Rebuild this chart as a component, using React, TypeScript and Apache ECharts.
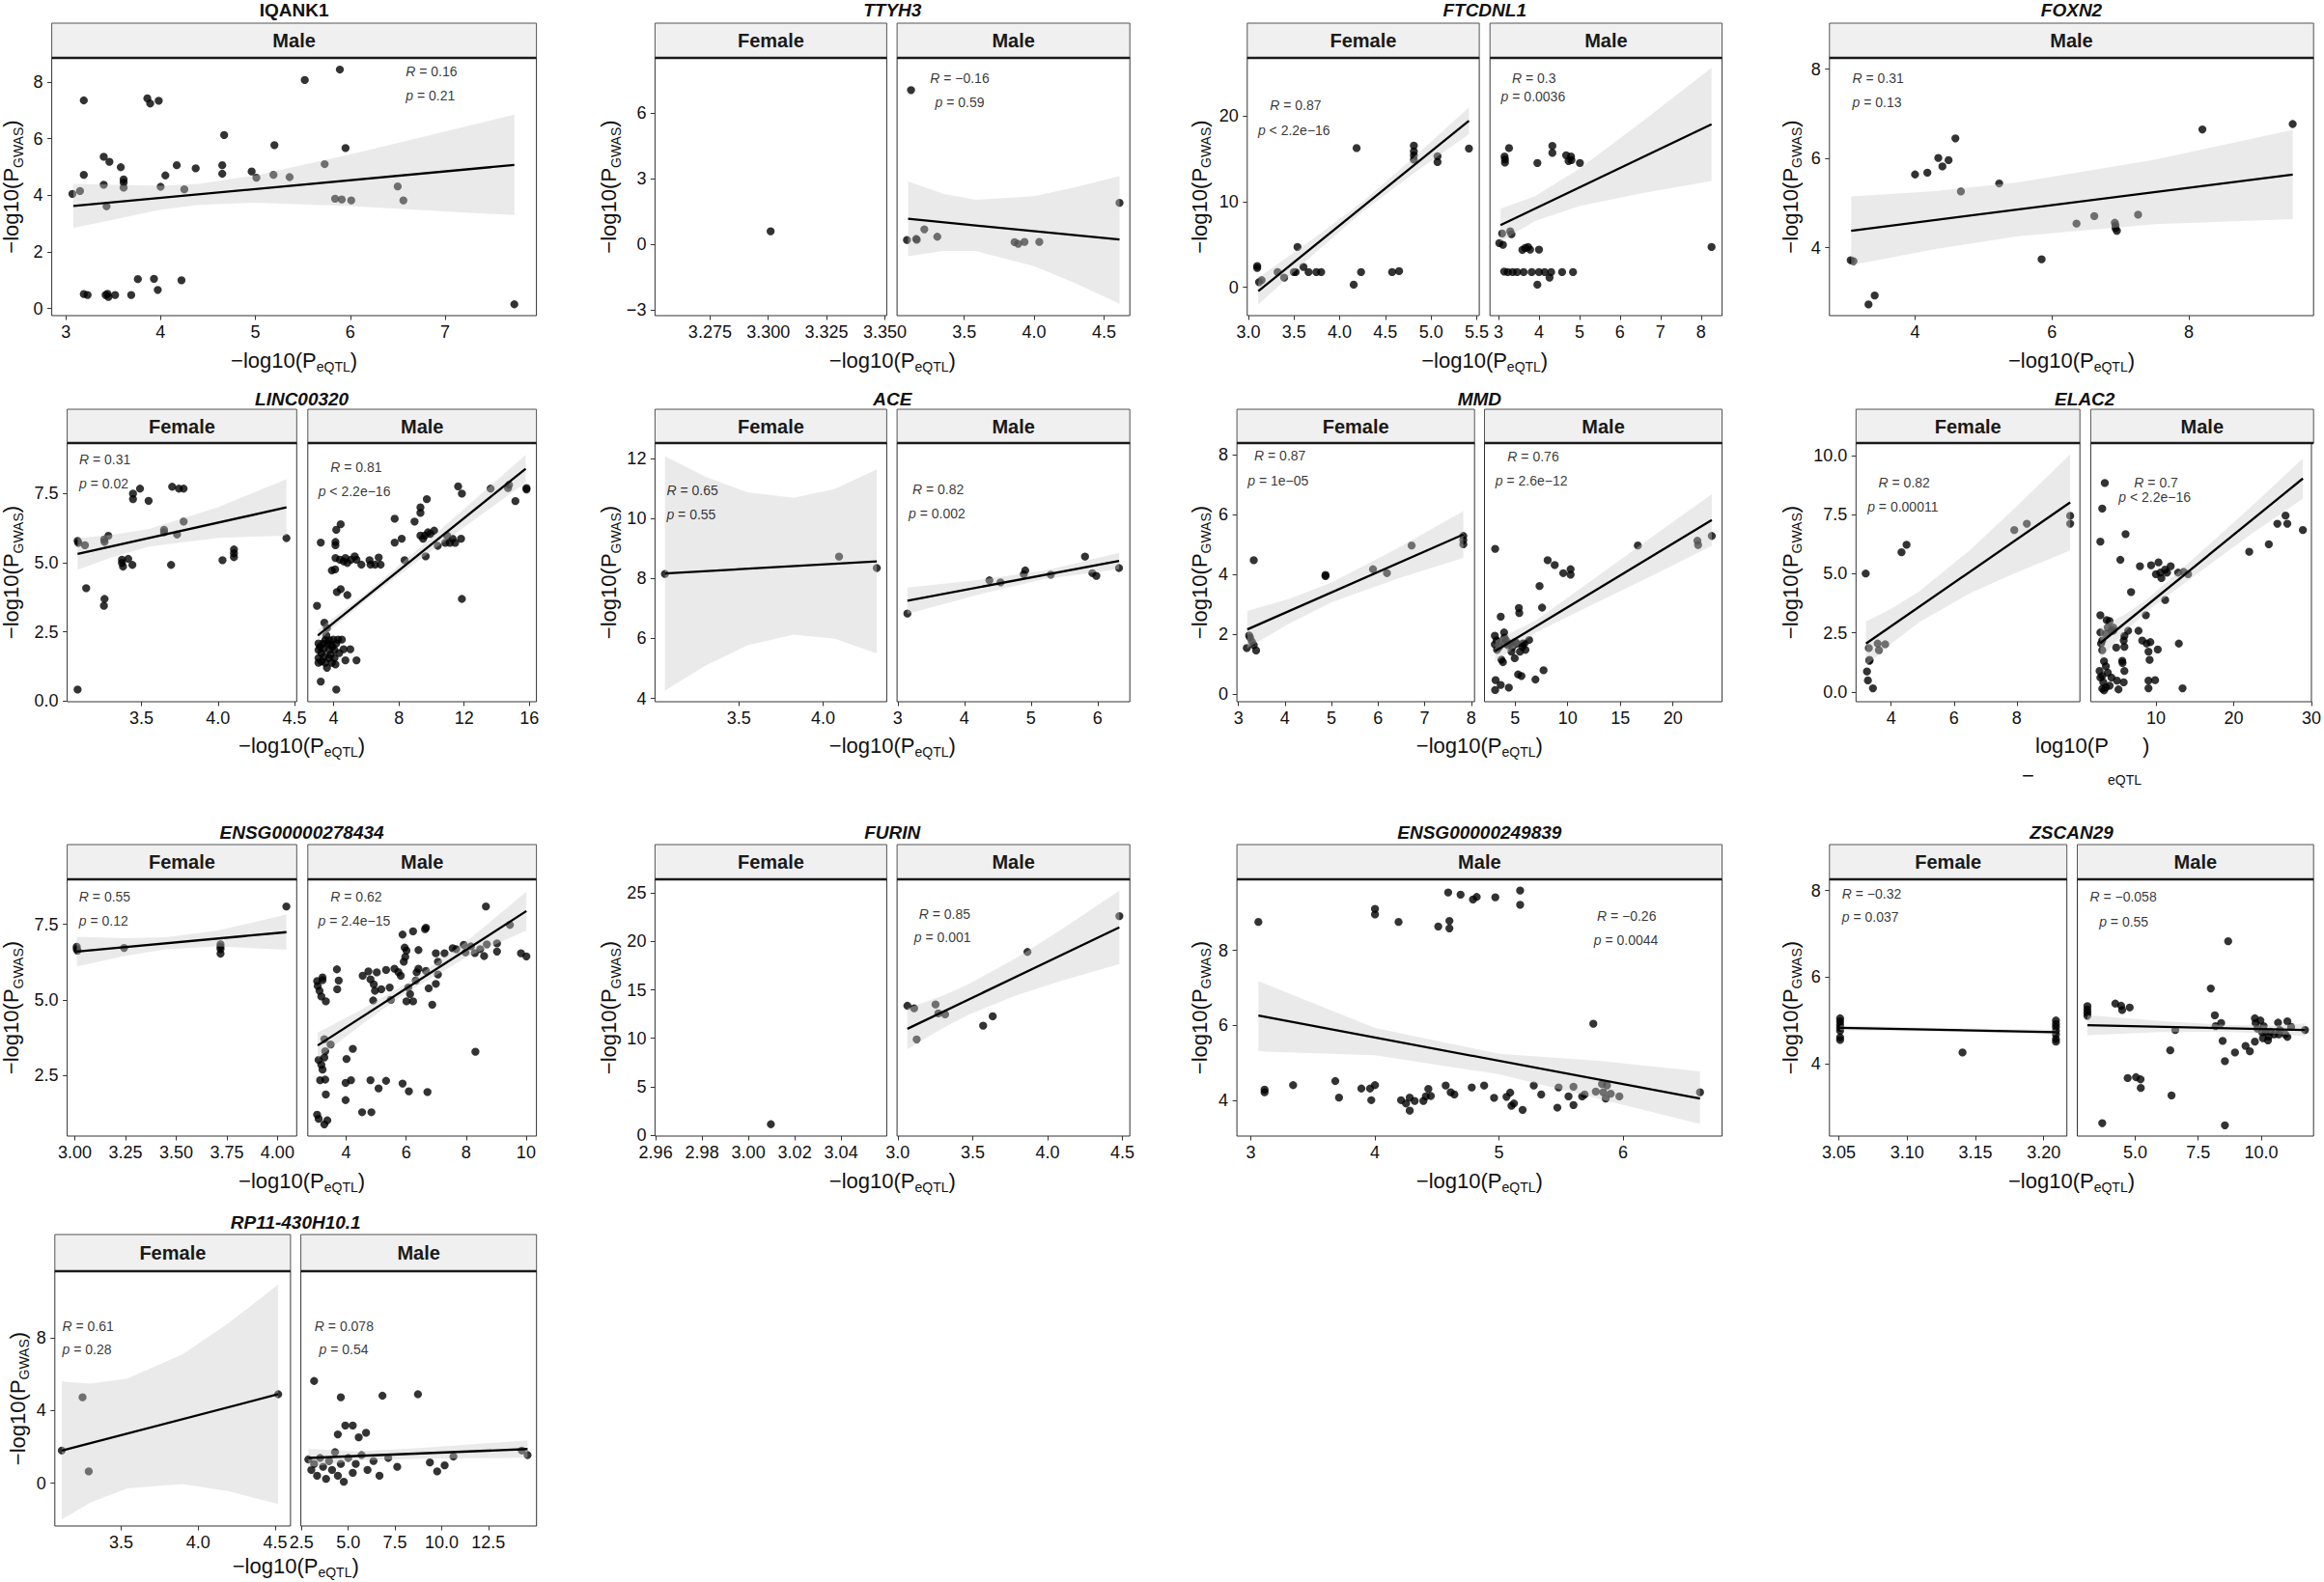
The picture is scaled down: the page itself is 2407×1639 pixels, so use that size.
import React, { useEffect, useRef } from "react";
import * as echarts from "echarts";

const FONT = "'Liberation Sans', Arial, Helvetica, sans-serif";
const MINUS = "\u2212";

// ================= DATA =================
// ---- IQANK1 (Male) ----
const IQANK1_X_TICKS = [3, 4, 5, 6, 7];
const IQANK1_Y_TICKS = [0, 2, 4, 6, 8];
const IQANK1_M_PTS = [[3.07,4.05],[3.15,4.15],[3.19,7.35],[3.19,4.72],[3.19,0.51],[3.23,0.48],[3.40,5.36],[3.40,4.37],[3.43,3.61],[3.46,5.18],[3.44,0.52],[3.45,0.41],[3.42,0.48],[3.52,0.48],[3.58,4.99],[3.61,4.56],[3.61,4.45],[3.61,4.27],[3.69,0.48],[3.76,1.04],[3.86,7.42],[3.89,7.24],[3.98,7.34],[3.93,1.05],[3.97,0.66],[4.00,4.30],[4.05,4.70],[4.17,5.06],[4.22,1.00],[4.25,4.21],[4.37,4.95],[4.65,5.06],[4.65,4.76],[4.67,6.13],[4.96,4.84],[5.01,4.62],[5.19,4.72],[5.20,5.77],[5.36,4.64],[5.52,8.07],[5.73,5.10],[5.84,3.88],[5.89,8.44],[5.91,3.85],[5.95,5.67],[6.01,3.82],[6.50,4.31],[6.56,3.82],[7.73,0.15]];
const IQANK1_M_FIT = [[3.08,3.62],[7.73,5.07]];
const IQANK1_M_BAND = [[3.08,2.84,4.40],[4.0,3.49,4.33],[4.4,3.66,4.40],[5.0,3.74,4.70],[6.0,3.62,5.44],[7.0,3.43,6.25],[7.73,3.30,6.85]];
const IQANK1_M_STATS = ["0.16", "= 0.21"];

// ---- TTYH3 ----
const TTYH3_Y_TICKS = [-3, 0, 3, 6];
const TTYH3_F_X_TICKS = [3.275, 3.3, 3.325, 3.35];
const TTYH3_M_X_TICKS = [3.5, 4.0, 4.5];
const TTYH3_F_PTS = [[3.301,0.59]];
const TTYH3_M_PTS = [[3.090,0.19],[3.119,7.05],[3.156,0.24],[3.160,0.20],[3.214,0.68],[3.307,0.34],[3.860,0.09],[3.886,0.01],[3.931,0.10],[4.037,0.10],[4.611,1.89]];
const TTYH3_M_FIT = [[3.098,1.16],[4.611,0.21]];
const TTYH3_M_BAND = [[3.098,-0.55,2.87],[3.35,-0.31,2.31],[3.58,-0.31,2.03],[4.0,-1.01,2.19],[4.3,-1.80,2.61],[4.611,-2.73,3.11]];
const TTYH3_M_STATS = ["−0.16", "= 0.59"];

// ---- FTCDNL1 ----
const FTCDNL1_Y_TICKS = [0, 10, 20];
const FTCDNL1_F_X_TICKS = [3.0, 3.5, 4.0, 4.5, 5.0, 5.5];
const FTCDNL1_M_X_TICKS = [3, 4, 5, 6, 7, 8];
const FTCDNL1_F_PTS = [[3.097,2.48],[3.097,2.26],[3.117,0.60],[3.146,0.83],[3.320,1.77],[3.392,1.13],[3.498,1.77],[3.518,1.77],[3.538,4.70],[3.603,2.37],[3.659,1.77],[3.744,1.77],[3.797,1.77],[4.153,0.30],[4.185,16.24],[4.234,1.77],[4.574,1.77],[4.650,1.88],[4.812,16.54],[4.812,15.86],[4.812,15.38],[4.812,14.89],[5.071,15.30],[5.071,14.62],[5.415,16.20]];
const FTCDNL1_F_FIT = [[3.109,-0.45],[5.415,19.44]];
const FTCDNL1_F_BAND = [[3.109,-2.01,1.11],[3.7,3.73,5.57],[4.25,8.79,9.99],[4.8,13.21,15.05],[5.415,17.88,21.0]];
const FTCDNL1_F_STATS = ["0.87", "< 2.2e−16"];
const FTCDNL1_M_PTS = [[3.02,5.15],[3.09,6.28],[3.11,4.96],[3.15,15.26],[3.16,14.92],[3.16,14.55],[3.14,1.84],[3.23,1.77],[3.26,16.24],[3.29,6.54],[3.32,6.20],[3.35,1.77],[3.46,1.77],[3.59,4.36],[3.66,4.59],[3.73,4.70],[3.78,4.40],[3.82,1.77],[3.62,1.77],[3.96,14.51],[3.96,0.30],[4.00,4.40],[4.00,1.77],[4.14,1.77],[4.26,1.13],[4.30,1.77],[4.33,16.50],[4.33,15.68],[4.57,1.77],[4.67,15.41],[4.73,14.74],[4.79,15.26],[4.80,14.85],[4.84,1.77],[5.01,14.51],[8.26,4.70]];
const FTCDNL1_M_FIT = [[3.05,7.26],[8.26,19.02]];
const FTCDNL1_M_BAND = [[3.05,5.34,9.18],[3.9,7.73,10.63],[5.0,9.48,13.84],[6.5,10.93,19.17],[8.26,12.42,25.62]];
const FTCDNL1_M_STATS = ["0.3", "= 0.0036"];

// ---- FOXN2 (Male) ----
const FOXN2_X_TICKS = [4, 6, 8];
const FOXN2_Y_TICKS = [4, 6, 8];
const FOXN2_M_PTS = [[3.06,3.72],[3.10,3.70],[3.32,2.73],[3.41,2.93],[4.00,5.64],[4.18,5.68],[4.34,6.01],[4.40,5.82],[4.49,5.96],[4.59,6.45],[4.67,5.26],[5.23,5.44],[5.85,3.74],[6.36,4.54],[6.62,4.71],[6.92,4.56],[6.93,4.50],[6.93,4.44],[6.95,4.38],[7.26,4.74],[8.20,6.65],[9.52,6.77]];
const FOXN2_M_FIT = [[3.066,4.38],[9.52,5.64]];
const FOXN2_M_BAND = [[3.066,3.61,5.15],[4.3,3.97,5.27],[5.5,4.26,5.46],[7.5,4.53,5.97],[9.52,4.64,6.64]];
const FOXN2_M_STATS = ["0.31", "= 0.13"];

// ---- LINC00320 ----
const LINC_Y_TICKS = [0, 2.5, 5, 7.5];
const LINC_F_X_TICKS = [3.5, 4.0, 4.5];
const LINC_M_X_TICKS = [4, 8, 12, 16];
const LINC_F_PTS = [[3.082,5.79],[3.087,5.72],[3.130,5.63],[3.138,4.08],[3.082,0.41],[3.256,5.84],[3.258,5.75],[3.258,3.69],[3.254,3.44],[3.283,5.97],[3.372,5.11],[3.372,4.99],[3.379,4.86],[3.413,5.14],[3.440,4.92],[3.444,7.50],[3.444,7.30],[3.490,7.68],[3.546,7.24],[3.647,6.19],[3.647,6.10],[3.700,7.75],[3.693,4.92],[3.732,6.02],[3.744,7.68],[3.775,7.68],[3.775,6.49],[4.029,5.09],[4.104,5.48],[4.104,5.34],[4.104,5.20],[4.447,5.89]];
const LINC_F_FIT = [[3.082,5.32],[4.447,7.00]];
const LINC_F_BAND = [[3.082,4.75,5.89],[3.3,5.18,6.00],[3.55,5.58,6.22],[4.0,5.90,7.01],[4.447,5.98,8.02]];
const LINC_F_STATS = ["0.31", "= 0.02"];
const LINC_M_PTS = [[2.98,3.44],[3.43,2.83],[3.21,0.70],[4.16,0.41],[3.59,2.64],[3.55,2.37],[3.48,2.19],[3.07,2.08],[3.07,1.84],[3.07,1.55],[3.07,1.38],[3.16,1.96],[3.25,1.73],[3.25,1.43],[3.37,2.08],[3.39,1.90],[3.43,1.61],[3.48,1.38],[3.59,1.20],[3.64,2.08],[3.71,1.84],[3.71,1.55],[3.75,2.19],[3.82,1.67],[3.89,1.38],[3.93,1.96],[3.98,2.22],[4.05,1.55],[4.11,1.32],[4.16,2.08],[4.27,2.22],[4.34,1.73],[4.50,2.22],[4.61,1.87],[4.72,1.47],[5.02,1.87],[5.40,1.47],[4.05,1.84],[3.84,2.02],[3.21,5.73],[4.11,5.75],[4.11,5.63],[4.16,6.19],[4.43,6.39],[3.89,4.72],[4.09,4.76],[4.20,3.94],[4.43,4.04],[4.84,3.83],[4.11,5.17],[4.38,5.11],[4.61,5.05],[4.72,5.17],[4.84,4.99],[5.06,5.11],[5.29,5.23],[5.40,5.11],[5.70,4.93],[6.20,5.09],[6.26,4.93],[6.54,4.93],[6.76,5.19],[6.88,4.93],[7.74,5.73],[7.74,6.59],[8.17,5.87],[8.35,5.09],[8.96,6.49],[9.32,7.00],[9.32,6.80],[9.32,5.98],[9.48,5.87],[9.59,5.98],[9.64,5.23],[9.71,7.30],[9.78,6.10],[9.93,6.04],[10.16,6.16],[10.38,5.61],[10.84,5.72],[10.95,5.98],[11.13,5.72],[11.29,5.87],[11.45,5.72],[11.63,7.76],[11.81,5.87],[11.86,7.50],[11.86,3.69],[13.62,7.68],[14.69,7.70],[14.75,7.82],[15.14,7.23],[15.82,7.70],[15.82,7.65]];
const LINC_M_FIT = [[3.03,2.37],[15.77,8.40]];
const LINC_M_BAND = [[3.03,2.17,2.57],[6.0,3.65,3.91],[9.0,5.0,5.4],[12.5,6.50,7.21],[15.77,7.90,8.90]];
const LINC_M_STATS = ["0.81", "< 2.2e−16"];

// ---- ACE ----
const ACE_Y_TICKS = [4, 6, 8, 10, 12];
const ACE_F_X_TICKS = [3.5, 4.0];
const ACE_M_X_TICKS = [3, 4, 5, 6];
const ACE_F_PTS = [[3.061,8.15],[4.094,8.73],[4.318,8.35]];
const ACE_F_FIT = [[3.061,8.17],[4.318,8.57]];
const ACE_F_BAND = [[3.061,4.26,12.08],[3.3,5.09,11.40],[3.55,5.77,10.88],[3.824,6.13,10.69],[4.07,5.99,10.99],[4.318,5.50,11.64]];
const ACE_F_STATS = ["0.65", "= 0.55"];
const ACE_M_PTS = [[3.144,6.83],[4.375,7.94],[4.542,7.87],[4.891,8.14],[4.913,8.27],[5.296,8.13],[5.81,8.73],[5.92,8.18],[5.98,8.09],[6.32,8.35]];
const ACE_M_FIT = [[3.144,7.26],[6.322,8.59]];
const ACE_M_BAND = [[3.144,6.82,7.70],[4.2,7.46,7.95],[5.2,7.98,8.26],[6.322,8.32,8.86]];
const ACE_M_STATS = ["0.82", "= 0.002"];

// ---- MMD ----
const MMD_Y_TICKS = [0, 2, 4, 6, 8];
const MMD_F_X_TICKS = [3, 4, 5, 6, 7, 8];
const MMD_M_X_TICKS = [5, 10, 15, 20];
const MMD_F_PTS = [[3.18,1.54],[3.23,1.96],[3.25,1.89],[3.29,1.75],[3.33,4.47],[3.33,1.64],[3.38,1.46],[4.87,3.98],[4.87,3.94],[5.89,4.17],[6.19,4.04],[6.72,4.96],[7.83,5.28],[7.83,5.14],[7.83,5.00]];
const MMD_F_FIT = [[3.19,2.16],[7.83,5.33]];
const MMD_F_BAND = [[3.19,1.54,2.78],[4.1,2.37,3.19],[5.0,3.07,3.73],[6.4,3.85,4.85],[7.83,4.55,6.11]];
const MMD_F_STATS = ["0.87", "= 1e−05"];
const MMD_M_PTS = [[3.10,4.85],[3.07,1.95],[3.07,1.66],[3.14,0.47],[3.10,0.14],[3.28,1.48],[3.42,1.75],[3.63,2.59],[3.63,0.31],[3.70,1.15],[3.84,1.07],[3.95,2.06],[3.98,1.89],[4.05,1.69],[4.30,1.64],[4.40,0.22],[4.54,1.69],[4.65,1.42],[4.96,1.20],[5.18,1.69],[5.28,0.66],[5.35,2.88],[5.39,2.71],[5.46,1.42],[5.60,0.61],[5.70,1.69],[5.70,1.58],[5.88,1.69],[6.33,1.81],[6.93,0.49],[7.32,3.61],[7.56,2.89],[7.70,0.80],[8.09,4.47],[8.76,4.31],[9.57,4.04],[10.27,4.17],[10.27,3.99],[16.66,4.96],[22.32,5.12],[22.39,4.98],[23.69,5.28],[3.24,1.80],[3.49,1.58],[4.12,1.80],[4.75,1.58],[5.00,1.75],[5.98,1.48]];
const MMD_M_FIT = [[3.10,1.44],[23.69,5.81]];
const MMD_M_BAND = [[3.10,1.09,1.79],[7.0,2.07,2.47],[12.0,2.93,3.73],[18.0,3.95,5.25],[23.69,4.95,6.67]];
const MMD_M_STATS = ["0.76", "= 2.6e−12"];

// ---- ELAC2 ----
const ELAC2_Y_TICKS = [0, 2.5, 5, 7.5, 10];
const ELAC2_F_X_TICKS = [4, 6, 8];
const ELAC2_M_X_TICKS = [10, 20, 30];
const ELAC2_F_PTS = [[3.19,5.01],[3.23,0.87],[3.26,0.49],[3.29,1.86],[3.31,1.36],[3.31,1.32],[3.42,0.16],[3.57,2.05],[3.61,1.77],[3.81,2.02],[4.33,5.91],[4.49,6.23],[7.92,6.85],[8.32,7.12],[9.70,7.45],[9.70,7.12]];
const ELAC2_F_FIT = [[3.20,2.05],[9.70,8.02]];
const ELAC2_F_BAND = [[3.20,1.11,2.99],[4.0,2.04,3.52],[4.9,2.96,4.26],[6.5,4.17,5.99],[8.0,5.06,7.86],[9.70,5.99,10.05]];
const ELAC2_F_STATS = ["0.82", "= 0.00011"];
const ELAC2_M_PTS = [[3.43,8.84],[3.10,7.76],[2.86,6.36],[6.10,6.68],[5.43,5.59],[6.81,4.23],[7.95,5.32],[9.38,5.36],[10.33,5.48],[10.00,4.98],[10.57,5.05],[10.71,4.82],[11.19,5.18],[11.43,5.05],[11.90,5.32],[11.19,3.89],[12.86,5.05],[13.57,5.08],[14.14,4.98],[8.71,3.25],[7.76,2.59],[6.43,2.59],[8.24,2.18],[8.81,2.05],[9.29,2.11],[9.05,1.71],[9.19,1.36],[10.24,1.80],[12.95,2.05],[9.05,0.48],[9.90,0.50],[9.05,0.16],[13.43,0.16],[22.0,5.93],[24.52,6.25],[25.62,7.12],[26.67,7.46],[26.90,7.12],[28.90,6.85],[2.86,3.25],[2.86,2.52],[2.95,2.05],[3.10,2.18],[3.10,1.77],[3.67,3.04],[4.05,3.00],[3.81,2.73],[4.29,2.59],[4.52,2.73],[3.57,2.46],[4.90,1.88],[5.86,2.18],[5.95,1.91],[5.95,2.37],[5.67,1.32],[5.71,1.23],[5.95,0.89],[2.76,0.89],[2.86,0.61],[3.10,0.68],[3.33,1.30],[3.57,1.09],[3.24,0.41],[3.10,0.14],[3.57,0.20],[4.05,0.27],[4.29,0.61],[5.00,0.48],[5.19,0.11],[5.86,0.41],[3.81,0.82],[3.33,0.07],[4.52,2.59]];
const ELAC2_M_FIT = [[2.86,2.07],[28.90,9.03]];
const ELAC2_M_BAND = [[2.86,1.40,2.74],[6.0,2.55,3.27],[9.0,3.46,3.96],[15.0,4.93,5.69],[22.0,6.62,7.76],[28.9,8.18,9.88]];
const ELAC2_M_STATS = ["0.7", "< 2.2e−16"];

// ---- ENSG00000278434 ----
const E278_Y_TICKS = [2.5, 5, 7.5];
const E278_F_X_TICKS = [3.0, 3.25, 3.5, 3.75, 4.0];
const E278_M_X_TICKS = [4, 6, 8, 10];
const E278_F_PTS = [[3.009,6.76],[3.009,6.68],[3.013,6.63],[3.243,6.72],[3.719,6.84],[3.719,6.76],[3.719,6.68],[3.719,6.53],[4.044,8.09]];
const E278_F_FIT = [[3.009,6.60],[4.044,7.24]];
const E278_F_BAND = [[3.009,6.11,7.09],[3.25,6.46,7.04],[3.45,6.67,7.07],[3.7,6.77,7.29],[4.044,6.66,7.82]];
const E278_F_STATS = ["0.55", "= 0.12"];
const E278_M_PTS = [[3.03,5.62],[3.05,5.46],[3.11,5.30],[3.17,5.11],[3.21,5.74],[3.21,5.65],[3.32,4.95],[3.27,3.70],[3.30,3.30],[3.27,3.09],[3.08,3.01],[3.17,2.85],[3.21,2.69],[3.13,2.34],[3.30,2.36],[3.32,1.87],[3.03,1.20],[3.08,1.06],[3.27,0.88],[3.37,1.01],[3.48,3.52],[3.69,6.01],[3.75,5.64],[3.70,5.35],[4.01,3.04],[4.22,3.38],[3.98,2.25],[4.16,2.34],[3.98,1.68],[4.53,1.28],[4.84,1.28],[4.81,2.34],[5.33,2.32],[5.08,2.07],[5.88,2.23],[6.09,1.97],[6.71,1.95],[4.55,5.80],[4.74,5.94],[4.81,5.68],[4.92,5.51],[5.02,5.91],[4.96,5.30],[4.90,4.98],[5.17,5.35],[5.33,5.99],[5.45,5.41],[5.49,5.00],[5.61,6.03],[5.74,5.92],[5.82,5.80],[5.88,7.16],[5.95,6.73],[5.92,6.26],[5.97,6.42],[6.01,6.63],[6.07,5.41],[6.01,4.95],[6.13,5.19],[6.23,4.95],[6.23,7.27],[6.32,5.64],[6.41,6.65],[6.41,6.03],[6.35,5.91],[6.63,7.34],[6.66,7.39],[6.75,5.38],[6.87,4.84],[6.66,5.96],[6.99,5.53],[6.99,6.54],[7.06,6.26],[7.06,5.84],[7.28,6.54],[7.55,6.71],[7.67,6.68],[7.92,6.82],[7.98,6.57],[8.16,6.77],[8.29,6.55],[8.47,6.68],[8.60,6.45],[8.69,6.84],[8.66,8.09],[8.31,3.28],[9.03,6.87],[9.03,6.60],[9.46,7.48],[9.83,6.54],[10.01,6.44]];
const E278_M_FIT = [[3.05,3.49],[10.01,7.94]];
const E278_M_BAND = [[3.05,3.06,3.92],[4.5,4.17,4.67],[6.0,5.23,5.53],[8.0,6.40,6.92],[10.01,7.30,8.58]];
const E278_M_STATS = ["0.62", "= 2.4e−15"];

// ---- FURIN ----
const FURIN_Y_TICKS = [0, 5, 10, 15, 20, 25];
const FURIN_F_X_TICKS = [2.96, 2.98, 3.0, 3.02, 3.04];
const FURIN_M_X_TICKS = [3.0, 3.5, 4.0, 4.5];
const FURIN_F_PTS = [[3.0097,1.12]];
const FURIN_M_PTS = [[3.064,13.36],[3.109,13.10],[3.126,9.89],[3.252,13.49],[3.271,12.57],[3.316,12.47],[3.570,11.31],[3.634,12.27],[3.866,18.92],[4.480,22.62]];
const FURIN_M_FIT = [[3.064,10.98],[4.480,21.46]];
const FURIN_M_BAND = [[3.064,8.88,13.08],[3.3,11.05,14.41],[3.47,12.41,15.57],[3.8,14.49,18.37],[4.1,15.98,21.32],[4.48,17.66,25.26]];
const FURIN_M_STATS = ["0.85", "= 0.001"];

// ---- ENSG00000249839 (Male) ----
const E249_X_TICKS = [3, 4, 5, 6];
const E249_Y_TICKS = [4, 6, 8];
const E249_M_PTS = [[3.06,8.76],[4.00,9.11],[4.00,8.96],[4.19,8.76],[4.51,8.64],[4.59,9.55],[4.60,8.79],[4.60,8.59],[4.69,9.49],[4.79,9.36],[4.82,9.43],[4.97,9.42],[5.17,9.60],[5.17,9.22],[5.76,6.04],[3.11,4.28],[3.11,4.21],[3.34,4.40],[3.68,4.51],[3.71,4.07],[3.89,4.31],[3.96,4.31],[3.97,4.00],[4.00,4.40],[4.21,4.00],[4.25,3.91],[4.28,4.07],[4.28,3.72],[4.32,3.98],[4.39,3.98],[4.41,4.10],[4.43,4.30],[4.45,4.11],[4.57,4.39],[4.61,4.21],[4.64,4.15],[4.78,4.34],[4.88,4.39],[4.96,4.06],[5.06,4.09],[5.09,4.20],[5.10,3.85],[5.12,3.91],[5.19,3.74],[5.28,4.39],[5.34,4.15],[5.47,3.80],[5.48,4.34],[5.56,4.10],[5.60,3.87],[5.60,4.36],[5.67,4.10],[5.69,4.15],[5.78,4.23],[5.83,4.43],[5.84,4.21],[5.86,4.04],[5.87,4.39],[5.90,4.17],[5.97,4.10],[6.62,4.21]];
const E249_M_FIT = [[3.06,6.26],[6.62,4.04]];
const E249_M_BAND = [[3.06,5.30,7.18],[4.0,5.20,5.93],[5.0,4.69,5.24],[5.8,4.04,5.05],[6.62,3.36,4.77]];
const E249_M_STATS = ["−0.26", "= 0.0044"];

// ---- ZSCAN29 ----
const ZSCAN_Y_TICKS = [4, 6, 8];
const ZSCAN_F_X_TICKS = [3.05, 3.10, 3.15, 3.20];
const ZSCAN_M_X_TICKS = [5.0, 7.5, 10.0];
const ZSCAN_F_PTS = [[3.051,5.05],[3.051,4.98],[3.051,4.90],[3.051,4.83],[3.051,4.76],[3.051,4.61],[3.051,4.55],[3.209,5.00],[3.209,4.92],[3.209,4.85],[3.209,4.76],[3.209,4.68],[3.209,4.57],[3.209,4.51],[3.1406,4.26]];
const ZSCAN_F_FIT = [[3.051,4.83],[3.209,4.73]];
const ZSCAN_F_BAND = [[3.051,4.77,4.89],[3.13,4.74,4.82],[3.209,4.67,4.79]];
const ZSCAN_F_STATS = ["−0.32", "= 0.037"];
const ZSCAN_M_PTS = [[3.10,5.33],[3.10,5.25],[3.10,5.18],[3.10,5.11],[3.69,2.63],[4.21,5.39],[4.44,5.34],[4.48,5.24],[4.78,5.30],[4.70,3.67],[5.03,3.69],[5.21,3.64],[5.22,3.44],[6.59,4.78],[6.39,4.31],[6.44,3.27],[8.00,5.74],[8.16,5.12],[8.19,4.87],[8.41,4.94],[8.47,4.53],[8.56,4.06],[8.56,2.58],[8.69,6.83],[8.96,4.26],[9.38,4.41],[9.55,4.29],[9.75,5.05],[9.75,4.51],[9.78,4.94],[9.85,4.81],[9.97,5.00],[10.04,4.73],[10.07,4.59],[10.10,4.87],[10.18,4.74],[10.30,4.63],[10.27,4.54],[10.37,4.74],[10.52,4.68],[10.67,4.95],[10.70,4.68],[10.74,4.78],[10.96,4.68],[11.04,4.98],[11.04,4.62],[11.19,4.85],[11.74,4.78]];
const ZSCAN_M_FIT = [[3.10,4.89],[11.74,4.78]];
const ZSCAN_M_BAND = [[3.10,4.66,5.12],[6.0,4.73,4.99],[8.5,4.74,4.90],[10.5,4.70,4.88],[11.74,4.63,4.93]];
const ZSCAN_M_STATS = ["−0.058", "= 0.55"];

// ---- RP11-430H10.1 ----
const RP11_Y_TICKS = [0, 4, 8];
const RP11_F_X_TICKS = [3.5, 4.0, 4.5];
const RP11_M_X_TICKS = [2.5, 5.0, 7.5, 10.0, 12.5];
const RP11_F_PTS = [[3.115,1.80],[3.25,4.73],[3.29,0.65],[4.52,4.90]];
const RP11_F_FIT = [[3.115,1.80],[4.52,4.90]];
const RP11_F_BAND = [[3.115,-2.0,5.6],[3.3,-1.07,5.49],[3.54,-0.28,5.76],[3.9,-0.05,7.11],[4.2,-0.45,8.83],[4.52,-1.15,10.95]];
const RP11_F_STATS = ["0.61", "= 0.28"];
const RP11_M_PTS = [[3.17,5.63],[4.60,4.73],[6.83,4.82],[8.73,4.90],[4.84,3.18],[5.24,3.18],[4.44,2.69],[5.56,2.53],[5.95,2.78],[2.86,1.31],[3.02,0.73],[3.17,1.06],[3.33,0.41],[3.49,1.39],[3.65,0.90],[3.81,0.24],[3.97,1.22],[4.13,0.73],[4.29,1.71],[4.44,0.41],[4.60,1.06],[4.76,0.08],[5.00,1.39],[5.24,0.57],[5.40,1.06],[5.71,1.55],[6.03,0.73],[6.35,1.22],[6.67,0.41],[7.14,1.39],[7.62,0.90],[9.37,1.14],[9.76,0.65],[10.16,0.98],[10.63,1.47],[14.29,1.80],[14.60,1.55]];
const RP11_M_FIT = [[2.86,1.39],[14.6,1.88]];
const RP11_M_BAND = [[2.86,0.89,1.89],[5.5,1.25,1.75],[9.0,1.35,1.95],[14.6,1.40,2.36]];
const RP11_M_STATS = ["0.078", "= 0.54"];

// ================= LAYOUT =================
const ROWS = [
  { stripTop: 24, panelTop: 60, panelBottom: 327, titleY: 10, xTitleY: 373 },
  { stripTop: 424, panelTop: 459, panelBottom: 727, titleY: 413, xTitleY: 772 },
  { stripTop: 875, panelTop: 911, panelBottom: 1177, titleY: 862, xTitleY: 1223 },
  { stripTop: 1279, panelTop: 1317, panelBottom: 1581, titleY: 1266, xTitleY: 1622 },
];

const P = (o: any) => o;
const PANELS: any[] = [
  P({ id: "IQANK1_M", row: 0, sex: "Male", l: 53.6, r: 555.6, xr: [2.852, 7.963], yr: [-0.25, 8.85], xt: IQANK1_X_TICKS, xd: 0, yt: IQANK1_Y_TICKS, yd: 0, yShow: true, pts: IQANK1_M_PTS, fit: IQANK1_M_FIT, band: IQANK1_M_BAND, stats: IQANK1_M_STATS, at: [[6.58, 8.37], [6.58, 7.51]] }),
  P({ id: "TTYH3_F", row: 0, sex: "Female", l: 678.4, r: 918.4, xr: [3.2514, 3.3508], yr: [-3.27, 8.52], xt: TTYH3_F_X_TICKS, xd: 3, yt: TTYH3_Y_TICKS, yd: 0, yShow: true, pts: TTYH3_F_PTS }),
  P({ id: "TTYH3_M", row: 0, sex: "Male", l: 929.1, r: 1170.2, xr: [3.019, 4.685], yr: [-3.27, 8.52], xt: TTYH3_M_X_TICKS, xd: 1, yt: TTYH3_Y_TICKS, yd: 0, yShow: false, pts: TTYH3_M_PTS, fit: TTYH3_M_FIT, band: TTYH3_M_BAND, stats: TTYH3_M_STATS, at: [[3.251, 7.61], [3.288, 6.49]] }),
  P({ id: "FTCDNL1_F", row: 0, sex: "Female", l: 1291.8, r: 1532.1, xr: [2.988, 5.528], yr: [-3.31, 26.77], xt: FTCDNL1_F_X_TICKS, xd: 1, yt: FTCDNL1_Y_TICKS, yd: 0, yShow: true, pts: FTCDNL1_F_PTS, fit: FTCDNL1_F_FIT, band: FTCDNL1_F_BAND, stats: FTCDNL1_F_STATS, at: [[3.23, 21.2], [3.10, 18.3]] }),
  P({ id: "FTCDNL1_M", row: 0, sex: "Male", l: 1543.2, r: 1783.6, xr: [2.79, 8.52], yr: [-3.31, 26.77], xt: FTCDNL1_M_X_TICKS, xd: 0, yt: FTCDNL1_Y_TICKS, yd: 0, yShow: false, pts: FTCDNL1_M_PTS, fit: FTCDNL1_M_FIT, band: FTCDNL1_M_BAND, stats: FTCDNL1_M_STATS, at: [[3.32, 24.4], [3.05, 22.26]] }),
  P({ id: "FOXN2_M", row: 0, sex: "Male", l: 1894.8, r: 2396.2, xr: [2.749, 9.825], yr: [2.48, 8.25], xt: FOXN2_X_TICKS, xd: 0, yt: FOXN2_Y_TICKS, yd: 0, yShow: true, pts: FOXN2_M_PTS, fit: FOXN2_M_FIT, band: FOXN2_M_BAND, stats: FOXN2_M_STATS, at: [[3.077, 7.80], [3.077, 7.26]] }),

  P({ id: "LINC_F", row: 1, sex: "Female", l: 69.6, r: 307.3, xr: [3.014, 4.514], yr: [-0.03, 9.33], xt: LINC_F_X_TICKS, xd: 1, yt: LINC_Y_TICKS, yd: 1, yShow: true, pts: LINC_F_PTS, fit: LINC_F_FIT, band: LINC_F_BAND, stats: LINC_F_STATS, at: [[3.089, 8.74], [3.089, 7.85]] }),
  P({ id: "LINC_M", row: 1, sex: "Male", l: 318.8, r: 555.6, xr: [2.415, 16.43], yr: [-0.03, 9.33], xt: LINC_M_X_TICKS, xd: 0, yt: LINC_Y_TICKS, yd: 1, yShow: false, pts: LINC_M_PTS, fit: LINC_M_FIT, band: LINC_M_BAND, stats: LINC_M_STATS, at: [[3.77, 8.47], [3.03, 7.59]] }),
  P({ id: "ACE_F", row: 1, sex: "Female", l: 678.4, r: 918.4, xr: [3.002, 4.377], yr: [3.89, 12.52], xt: ACE_F_X_TICKS, xd: 1, yt: ACE_Y_TICKS, yd: 0, yShow: true, pts: ACE_F_PTS, fit: ACE_F_FIT, band: ACE_F_BAND, stats: ACE_F_STATS, at: [[3.068, 10.94], [3.068, 10.13]] }),
  P({ id: "ACE_M", row: 1, sex: "Male", l: 929.1, r: 1170.2, xr: [2.989, 6.483], yr: [3.89, 12.52], xt: ACE_M_X_TICKS, xd: 0, yt: ACE_Y_TICKS, yd: 0, yShow: false, pts: ACE_M_PTS, fit: ACE_M_FIT, band: ACE_M_BAND, stats: ACE_M_STATS, at: [[3.211, 10.99], [3.155, 10.18]] }),
  P({ id: "MMD_F", row: 1, sex: "Female", l: 1281.1, r: 1527.2, xr: [2.968, 8.071], yr: [-0.25, 8.38], xt: MMD_F_X_TICKS, xd: 0, yt: MMD_Y_TICKS, yd: 0, yShow: true, pts: MMD_F_PTS, fit: MMD_F_FIT, band: MMD_F_BAND, stats: MMD_F_STATS, at: [[3.33, 7.97], [3.19, 7.14]] }),
  P({ id: "MMD_M", row: 1, sex: "Male", l: 1537.5, r: 1783.6, xr: [2.085, 24.67], yr: [-0.25, 8.38], xt: MMD_M_X_TICKS, xd: 0, yt: MMD_Y_TICKS, yd: 0, yShow: false, pts: MMD_M_PTS, fit: MMD_M_FIT, band: MMD_M_BAND, stats: MMD_M_STATS, at: [[4.23, 7.92], [3.07, 7.11]] }),
  P({ id: "ELAC2_F", row: 1, sex: "Female", l: 1922.3, r: 2154.2, xr: [2.881, 10.01], yr: [-0.41, 10.53], xt: ELAC2_F_X_TICKS, xd: 0, yt: ELAC2_Y_TICKS, yd: 1, yShow: true, pts: ELAC2_F_PTS, fit: ELAC2_F_FIT, band: ELAC2_F_BAND, stats: ELAC2_F_STATS, at: [[3.58, 8.87], [3.23, 7.84]] }),
  P({ id: "ELAC2_M", row: 1, sex: "Male", l: 2165.4, r: 2396.2, xr: [1.62, 30.0], yr: [-0.41, 10.53], xt: ELAC2_M_X_TICKS, xd: 0, yt: ELAC2_Y_TICKS, yd: 1, yShow: false, pts: ELAC2_M_PTS, fit: ELAC2_M_FIT, band: ELAC2_M_BAND, stats: ELAC2_M_STATS, at: [[7.14, 8.87], [5.14, 8.25]] }),

  P({ id: "E278_F", row: 2, sex: "Female", l: 69.6, r: 307.3, xr: [2.962, 4.095], yr: [0.49, 8.99], xt: E278_F_X_TICKS, xd: 2, yt: E278_Y_TICKS, yd: 1, yShow: true, pts: E278_F_PTS, fit: E278_F_FIT, band: E278_F_BAND, stats: E278_F_STATS, at: [[3.018, 8.41], [3.018, 7.61]] }),
  P({ id: "E278_M", row: 2, sex: "Male", l: 318.8, r: 555.6, xr: [2.719, 10.345], yr: [0.49, 8.99], xt: E278_M_X_TICKS, xd: 0, yt: E278_Y_TICKS, yd: 1, yShow: false, pts: E278_M_PTS, fit: E278_M_FIT, band: E278_M_BAND, stats: E278_M_STATS, at: [[3.46, 8.41], [3.05, 7.61]] }),
  P({ id: "FURIN_F", row: 2, sex: "Female", l: 678.4, r: 918.4, xr: [2.9597, 3.0597], yr: [-0.1, 26.42], xt: FURIN_F_X_TICKS, xd: 2, yt: FURIN_Y_TICKS, yd: 0, yShow: true, pts: FURIN_F_PTS }),
  P({ id: "FURIN_M", row: 2, sex: "Male", l: 929.1, r: 1170.2, xr: [2.995, 4.55], yr: [-0.1, 26.42], xt: FURIN_M_X_TICKS, xd: 1, yt: FURIN_Y_TICKS, yd: 0, yShow: false, pts: FURIN_M_PTS, fit: FURIN_M_FIT, band: FURIN_M_BAND, stats: FURIN_M_STATS, at: [[3.138, 22.88], [3.106, 20.40]] }),
  P({ id: "E249_M", row: 2, sex: "Male", l: 1281.1, r: 1783.6, xr: [2.887, 6.798], yr: [3.04, 9.90], xt: E249_X_TICKS, xd: 0, yt: E249_Y_TICKS, yd: 0, yShow: true, pts: E249_M_PTS, fit: E249_M_FIT, band: E249_M_BAND, stats: E249_M_STATS, at: [[5.785, 8.91], [5.76, 8.27]] }),
  P({ id: "ZSCAN_F", row: 2, sex: "Female", l: 1894.8, r: 2140.7, xr: [3.0432, 3.217], yr: [2.33, 8.26], xt: ZSCAN_F_X_TICKS, xd: 2, yt: ZSCAN_Y_TICKS, yd: 0, yShow: true, pts: ZSCAN_F_PTS, fit: ZSCAN_F_FIT, band: ZSCAN_F_BAND, stats: ZSCAN_F_STATS, at: [[3.052, 7.93], [3.052, 7.38]] }),
  P({ id: "ZSCAN_M", row: 2, sex: "Male", l: 2151.5, r: 2396.2, xr: [2.70, 12.08], yr: [2.33, 8.26], xt: ZSCAN_M_X_TICKS, xd: 1, yt: ZSCAN_Y_TICKS, yd: 0, yShow: false, pts: ZSCAN_M_PTS, fit: ZSCAN_M_FIT, band: ZSCAN_M_BAND, stats: ZSCAN_M_STATS, at: [[3.175, 7.85], [3.55, 7.28]] }),

  P({ id: "RP11_F", row: 3, sex: "Female", l: 56.8, r: 300.9, xr: [3.07, 4.60], yr: [-2.36, 11.68], xt: RP11_F_X_TICKS, xd: 1, yt: RP11_Y_TICKS, yd: 0, yShow: true, pts: RP11_F_PTS, fit: RP11_F_FIT, band: RP11_F_BAND, stats: RP11_F_STATS, at: [[3.115, 8.65], [3.115, 7.35]] }),
  P({ id: "RP11_M", row: 3, sex: "Male", l: 311.6, r: 555.7, xr: [2.46, 15.08], yr: [-2.36, 11.68], xt: RP11_M_X_TICKS, xd: 1, yt: RP11_Y_TICKS, yd: 0, yShow: false, pts: RP11_M_PTS, fit: RP11_M_FIT, band: RP11_M_BAND, stats: RP11_M_STATS, at: [[3.17, 8.65], [3.41, 7.35]] }),
];

const GENES = [
  { name: "IQANK1", italic: false, ids: ["IQANK1_M"], yTitleX: 11.5 },
  { name: "TTYH3", italic: true, ids: ["TTYH3_F", "TTYH3_M"], yTitleX: 630.6 },
  { name: "FTCDNL1", italic: true, ids: ["FTCDNL1_F", "FTCDNL1_M"], yTitleX: 1242 },
  { name: "FOXN2", italic: true, ids: ["FOXN2_M"], yTitleX: 1854 },
  { name: "LINC00320", italic: true, ids: ["LINC_F", "LINC_M"], yTitleX: 11.5 },
  { name: "ACE", italic: true, ids: ["ACE_F", "ACE_M"], yTitleX: 630.6 },
  { name: "MMD", italic: true, ids: ["MMD_F", "MMD_M"], yTitleX: 1242 },
  { name: "ELAC2", italic: true, ids: ["ELAC2_F", "ELAC2_M"], yTitleX: 1854, broken: true },
  { name: "ENSG00000278434", italic: true, ids: ["E278_F", "E278_M"], yTitleX: 11.5 },
  { name: "FURIN", italic: true, ids: ["FURIN_F", "FURIN_M"], yTitleX: 630.6 },
  { name: "ENSG00000249839", italic: true, ids: ["E249_M"], yTitleX: 1242 },
  { name: "ZSCAN29", italic: true, ids: ["ZSCAN_F", "ZSCAN_M"], yTitleX: 1854 },
  { name: "RP11-430H10.1", italic: true, ids: ["RP11_F", "RP11_M"], yTitleX: 18.4 },
];

const fmt = (v: number, d: number) => Number(v).toFixed(d).replace("-", MINUS);

const BAND_FILL = "rgba(202,202,202,0.4)";

function buildOption() {
  const grid: any[] = [];
  const xAxis: any[] = [];
  const yAxis: any[] = [];
  const series: any[] = [];
  const graphic: any[] = [];

  PANELS.forEach((p, i) => {
    const row = ROWS[p.row];
    grid.push({
      left: p.l, top: row.panelTop, width: p.r - p.l, height: row.panelBottom - row.panelTop,
      show: true, borderColor: "#333", borderWidth: 1, backgroundColor: "#fff", containLabel: false,
    });
    xAxis.push({
      type: "value", gridIndex: i, min: p.xr[0], max: p.xr[1],
      axisLine: { show: false, onZero: false },
      splitLine: { show: false },
      axisTick: { show: true, customValues: p.xt, length: 4.5, lineStyle: { color: "#333", width: 1 } },
      axisLabel: { show: true, customValues: p.xt, formatter: (v: number) => fmt(v, p.xd), color: "#111", fontSize: 18, fontFamily: FONT, margin: 8 },
    });
    yAxis.push({
      type: "value", gridIndex: i, min: p.yr[0], max: p.yr[1],
      axisLine: { show: false, onZero: false },
      splitLine: { show: false },
      axisTick: { show: p.yShow, customValues: p.yt, length: 4.5, lineStyle: { color: "#333", width: 1 } },
      axisLabel: { show: p.yShow, customValues: p.yt, formatter: (v: number) => fmt(v, p.yd), color: "#111", fontSize: 18, fontFamily: FONT, margin: 9 },
    });
    series.push({
      type: "scatter", xAxisIndex: i, yAxisIndex: i, data: p.pts, symbolSize: 8.3,
      itemStyle: { color: "#000" }, z: 2, silent: true,
    });
    if (p.band) {
      const band = p.band;
      series.push({
        type: "custom", xAxisIndex: i, yAxisIndex: i, data: band, clip: true, z: 3, silent: true,
        renderItem: (params: any, api: any) => {
          if (params.dataIndex !== 0) return null;
          const up = band.map((b: number[]) => api.coord([b[0], b[2]]));
          const lo = band.map((b: number[]) => api.coord([b[0], b[1]])).reverse();
          return { type: "polygon", shape: { points: up.concat(lo) }, style: { fill: BAND_FILL, stroke: "none" } };
        },
      });
    }
    if (p.fit) {
      series.push({
        type: "line", xAxisIndex: i, yAxisIndex: i, data: p.fit, symbol: "none", showSymbol: false,
        lineStyle: { color: "#000", width: 2.3 }, z: 4, silent: true,
      });
    }
    if (p.stats) {
      series.push({
        type: "scatter", xAxisIndex: i, yAxisIndex: i, symbolSize: 1, z: 5, silent: true,
        itemStyle: { color: "rgba(0,0,0,0)" },
        label: {
          show: true, position: "right", distance: 0, color: "#000", fontSize: 14, fontFamily: FONT,
          rich: { i: { fontStyle: "italic", fontSize: 14, fontFamily: FONT, color: "#000" } },
        },
        data: [
          { value: p.at[0], label: { formatter: `{i|R} = ${p.stats[0]}` } },
          { value: p.at[1], label: { formatter: `{i|p} ${p.stats[1]}` } },
        ],
      });
    }
    // strip
    graphic.push({
      type: "rect", z: 50,
      shape: { x: p.l, y: row.stripTop, width: p.r - p.l, height: row.panelTop - row.stripTop },
      style: { fill: "#f0f0f0", stroke: "#555", lineWidth: 1 },
    });
    graphic.push({
      type: "line", z: 60,
      shape: { x1: p.l, y1: row.panelTop, x2: p.r, y2: row.panelTop },
      style: { stroke: "#1a1a1a", lineWidth: 2.5 },
    });
    graphic.push({
      type: "text", z: 61, x: (p.l + p.r) / 2, y: (row.stripTop + row.panelTop) / 2,
      style: { text: p.sex, fontSize: 20, fontWeight: "bold", fontFamily: FONT, fill: "#1a1a1a", align: "center", verticalAlign: "middle" },
    });
  });

  const byId: any = {};
  PANELS.forEach((p) => (byId[p.id] = p));

  const richSub = (size: number) => ({
    s: { fontSize: size, fontFamily: FONT, fill: "#111", lineHeight: size, verticalAlign: "bottom" },
  });

  GENES.forEach((g: any) => {
    const ps = g.ids.map((id: string) => byId[id]);
    const row = ROWS[ps[0].row];
    const l = ps[0].l;
    const r = ps[ps.length - 1].r;
    const cx = (l + r) / 2;
    graphic.push({
      type: "text", z: 61, x: cx, y: row.titleY,
      style: { text: g.name, fontSize: 19, fontWeight: "bold", fontStyle: g.italic ? "italic" : "normal", fontFamily: FONT, fill: "#111", align: "center", verticalAlign: "middle" },
    });
    graphic.push({
      type: "text", z: 61, x: g.yTitleX, y: (row.panelTop + row.panelBottom) / 2, rotation: Math.PI / 2,
      style: { text: `${MINUS}log10(P{s|GWAS})`, fontSize: 22, lineHeight: 28, fontFamily: FONT, fill: "#111", align: "center", verticalAlign: "middle", rich: richSub(14) },
    });
    if (!g.broken) {
      graphic.push({
        type: "text", z: 61, x: cx, y: row.xTitleY,
        style: { text: `${MINUS}log10(P{s|eQTL})`, fontSize: 22, lineHeight: 28, fontFamily: FONT, fill: "#111", align: "center", verticalAlign: "middle", rich: richSub(14) },
      });
    } else {
      const base = { fontFamily: FONT, fill: "#111", verticalAlign: "middle", align: "left" };
      graphic.push({ type: "text", z: 61, x: 2108, y: row.xTitleY, style: { ...base, text: "log10(P", fontSize: 22 } });
      graphic.push({ type: "text", z: 61, x: 2219, y: row.xTitleY, style: { ...base, text: ")", fontSize: 22 } });
      graphic.push({ type: "text", z: 61, x: 2094, y: 803, style: { ...base, text: MINUS, fontSize: 22 } });
      graphic.push({ type: "text", z: 61, x: 2183, y: 808, style: { ...base, text: "eQTL", fontSize: 14 } });
    }
  });

  return {
    animation: false,
    backgroundColor: "#fff",
    textStyle: { fontFamily: FONT },
    grid, xAxis, yAxis, series, graphic,
  };
}

export default function App() {
  const ref = useRef<HTMLDivElement>(null);
  useEffect(() => {
    if (!ref.current) return;
    const chart = echarts.init(ref.current, null, { renderer: "svg" });
    chart.setOption(buildOption() as any);
    return () => chart.dispose();
  }, []);
  return (
    <div
      ref={ref}
      style={{ position: "absolute", left: 0, top: 0, width: 2407, height: 1639, background: "#fff" }}
    />
  );
}
